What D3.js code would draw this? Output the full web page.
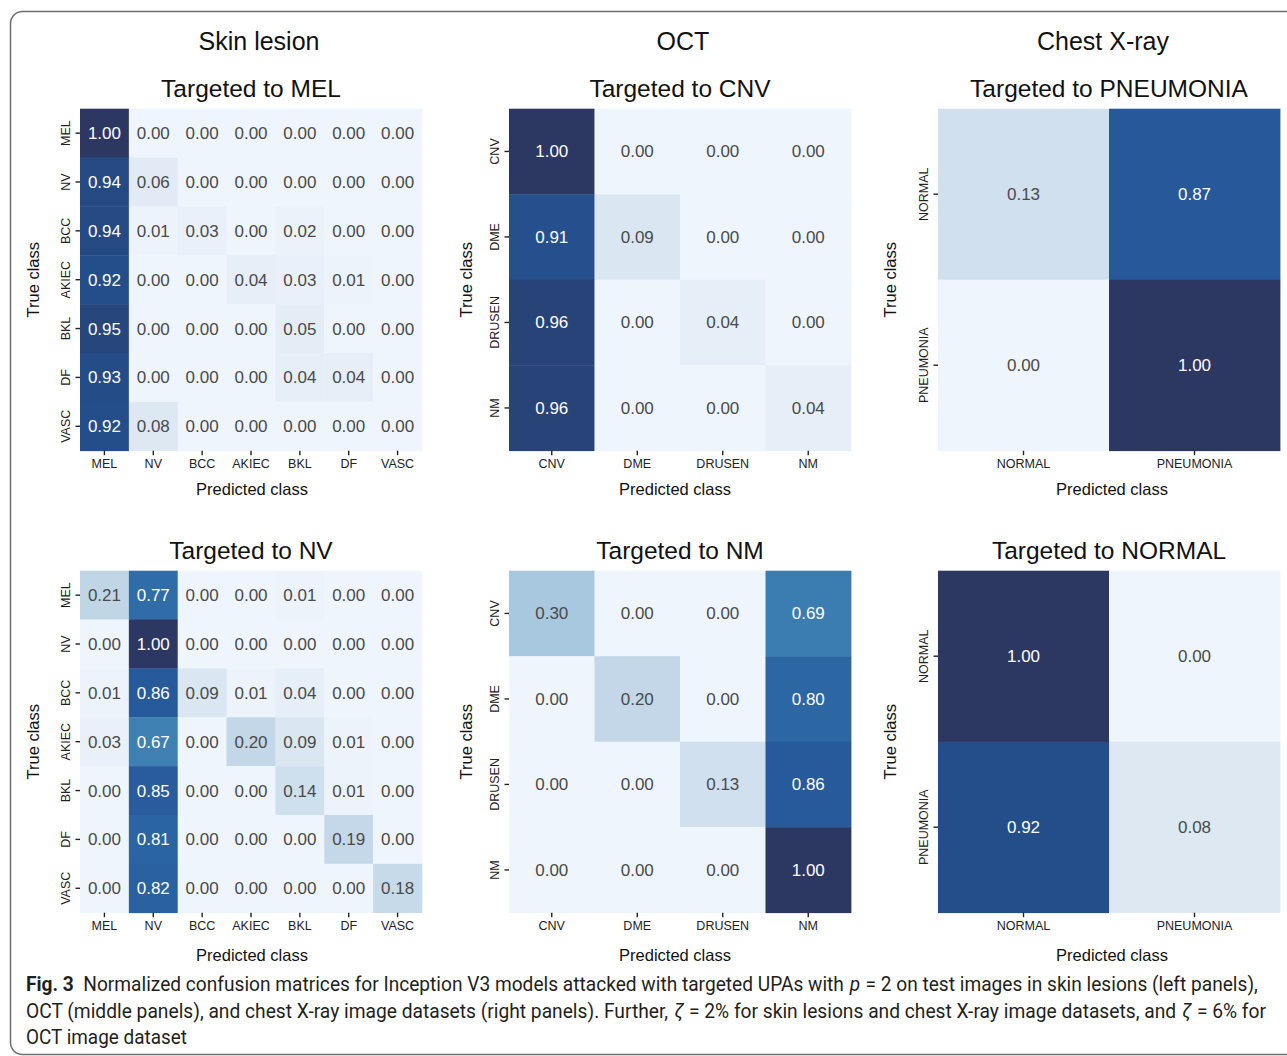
<!DOCTYPE html>
<html>
<head>
<meta charset="utf-8">
<script src="https://cdn.jsdelivr.net/npm/d3@7"></script>
<style>
  body { margin: 0; background: #fff; }
  svg { display: block; }
  text { font-family: "Liberation Sans", Arial, Helvetica, sans-serif; }
  .caption { font-family: Roboto, "Liberation Sans", sans-serif; white-space: pre; }
</style>
</head>
<body>
<svg id="fig" width="1287" height="1056"></svg>
<script>
// ---- class labels ----
const skinClasses  = ["MEL", "NV", "BCC", "AKIEC", "BKL", "DF", "VASC"];
const octClasses   = ["CNV", "DME", "DRUSEN", "NM"];
const chestClasses = ["NORMAL", "PNEUMONIA"];

// ---- normalized confusion matrices (rows = true class, cols = predicted class) ----
const skinToMel = [
  [1.00, 0.00, 0.00, 0.00, 0.00, 0.00, 0.00],
  [0.94, 0.06, 0.00, 0.00, 0.00, 0.00, 0.00],
  [0.94, 0.01, 0.03, 0.00, 0.02, 0.00, 0.00],
  [0.92, 0.00, 0.00, 0.04, 0.03, 0.01, 0.00],
  [0.95, 0.00, 0.00, 0.00, 0.05, 0.00, 0.00],
  [0.93, 0.00, 0.00, 0.00, 0.04, 0.04, 0.00],
  [0.92, 0.08, 0.00, 0.00, 0.00, 0.00, 0.00]
];
const skinToNv = [
  [0.21, 0.77, 0.00, 0.00, 0.01, 0.00, 0.00],
  [0.00, 1.00, 0.00, 0.00, 0.00, 0.00, 0.00],
  [0.01, 0.86, 0.09, 0.01, 0.04, 0.00, 0.00],
  [0.03, 0.67, 0.00, 0.20, 0.09, 0.01, 0.00],
  [0.00, 0.85, 0.00, 0.00, 0.14, 0.01, 0.00],
  [0.00, 0.81, 0.00, 0.00, 0.00, 0.19, 0.00],
  [0.00, 0.82, 0.00, 0.00, 0.00, 0.00, 0.18]
];
const octToCnv = [
  [1.00, 0.00, 0.00, 0.00],
  [0.91, 0.09, 0.00, 0.00],
  [0.96, 0.00, 0.04, 0.00],
  [0.96, 0.00, 0.00, 0.04]
];
const octToNm = [
  [0.30, 0.00, 0.00, 0.69],
  [0.00, 0.20, 0.00, 0.80],
  [0.00, 0.00, 0.13, 0.86],
  [0.00, 0.00, 0.00, 1.00]
];
const chestToPneumonia = [
  [0.13, 0.87],
  [0.00, 1.00]
];
const chestToNormal = [
  [1.00, 0.00],
  [0.92, 0.08]
];

// ---- colour map: light blue to dark navy ----
const color = d3.scaleLinear()
  .domain([0, 0.06, 0.13, 0.2, 0.3, 0.68, 0.8, 0.87, 0.93, 1.0])
  .range(["#eff5fc", "#e2ebf5", "#d0e0ef", "#c3d7e8", "#a8c8df",
          "#3c7eb2", "#2c66a3", "#26589a", "#244c87", "#2d3862"])
  .interpolate(d3.interpolateRgb)
  .clamp(true);

const svg = d3.select("#fig");

// outer frame
svg.append("rect")
  .attr("x", 10.5).attr("y", 11.5)
  .attr("width", 1300).attr("height", 1043)
  .attr("rx", 12).attr("ry", 12)
  .attr("fill", "none").attr("stroke", "#6e6e6e").attr("stroke-width", 1.5);

// column headers
const headers = [
  { text: "Skin lesion", x: 259 },
  { text: "OCT", x: 683 },
  { text: "Chest X-ray", x: 1103 }
];
svg.selectAll("text.header").data(headers).join("text")
  .attr("class", "header")
  .attr("x", d => d.x).attr("y", 50)
  .attr("text-anchor", "middle")
  .attr("font-size", 25).attr("fill", "#111")
  .text(d => d.text);

// panel layout
const SIZE = 342;
const panels = [
  { title: "Targeted to MEL",       classes: skinClasses,  values: skinToMel,        x: 80,  y: 108.7, ylab: 33.5, xlabDx: 1,  xlabDy: 44 },
  { title: "Targeted to CNV",       classes: octClasses,   values: octToCnv,         x: 509, y: 108.7, ylab: 466,  xlabDx: -5, xlabDy: 44 },
  { title: "Targeted to PNEUMONIA", classes: chestClasses, values: chestToPneumonia, x: 938, y: 108.7, ylab: 890,  xlabDx: 3,  xlabDy: 44 },
  { title: "Targeted to NV",        classes: skinClasses,  values: skinToNv,         x: 80,  y: 570.7, ylab: 33.5, xlabDx: 1,  xlabDy: 48 },
  { title: "Targeted to NM",        classes: octClasses,   values: octToNm,          x: 509, y: 570.7, ylab: 466,  xlabDx: -5, xlabDy: 48 },
  { title: "Targeted to NORMAL",    classes: chestClasses, values: chestToNormal,    x: 938, y: 570.7, ylab: 890,  xlabDx: 3,  xlabDy: 48 }
];

function drawMatrix(p) {
  const g = svg.append("g");
  const x = d3.scaleBand().domain(p.classes).range([p.x, p.x + SIZE]);
  const y = d3.scaleBand().domain(p.classes).range([p.y, p.y + SIZE]);
  const cells = p.values.flatMap((row, i) =>
    row.map((v, j) => ({ r: p.classes[i], c: p.classes[j], v })));

  g.selectAll("rect.cell").data(cells).join("rect")
    .attr("class", "cell")
    .attr("x", d => x(d.c)).attr("y", d => y(d.r))
    .attr("width", x.bandwidth() + 0.4).attr("height", y.bandwidth() + 0.4)
    .attr("fill", d => color(d.v));

  g.selectAll("text.val").data(cells).join("text")
    .attr("class", "val")
    .attr("x", d => x(d.c) + x.bandwidth() / 2)
    .attr("y", d => y(d.r) + y.bandwidth() / 2)
    .attr("dy", "0.35em")
    .attr("text-anchor", "middle")
    .attr("font-size", 17)
    .attr("fill", d => d.v > 0.5 ? "#ffffff" : "#4a4a4a")
    .text(d => d.v.toFixed(2));

  // x axis (predicted class)
  const ax = g.append("g")
    .attr("transform", `translate(0,${p.y + SIZE})`)
    .call(d3.axisBottom(x).tickSize(4.5).tickPadding(4));
  ax.select(".domain").remove();
  ax.selectAll(".tick line").attr("stroke", "#222").attr("stroke-width", 1.4);
  ax.selectAll(".tick text")
    .attr("font-size", 12.5).attr("fill", "#222")
    .attr("font-family", "Liberation Sans, Arial, sans-serif");

  // y axis (true class), labels rotated
  const ay = g.append("g")
    .attr("transform", `translate(${p.x},0)`)
    .call(d3.axisLeft(y).tickSize(4.5));
  ay.select(".domain").remove();
  ay.selectAll(".tick line").attr("stroke", "#222").attr("stroke-width", 1.4);
  ay.selectAll(".tick text")
    .attr("transform", "rotate(-90)")
    .attr("x", 0).attr("y", -10.5).attr("dy", 0)
    .attr("text-anchor", "middle")
    .attr("font-size", 12.5).attr("fill", "#222")
    .attr("font-family", "Liberation Sans, Arial, sans-serif");

  // panel title
  g.append("text")
    .attr("x", p.x + SIZE / 2).attr("y", p.y - 12)
    .attr("text-anchor", "middle")
    .attr("font-size", 24.5).attr("fill", "#111")
    .text(p.title);

  // axis titles
  g.append("text")
    .attr("x", p.x + SIZE / 2 + p.xlabDx).attr("y", p.y + SIZE + p.xlabDy)
    .attr("text-anchor", "middle")
    .attr("font-size", 16.5).attr("fill", "#111")
    .text("Predicted class");

  g.append("text")
    .attr("transform", `translate(${p.ylab},${p.y + SIZE / 2}) rotate(-90)`)
    .attr("dy", "0.35em")
    .attr("text-anchor", "middle")
    .attr("font-size", 16.5).attr("fill", "#111")
    .text("True class");
}

panels.forEach(drawMatrix);

// ---- figure caption: runs laid out in natural units, then the line is squeezed horizontally ----
const captionLines = [
  { y: 991, len: 1232, parts: [
    { t: "Fig. 3", w: "bold" },
    { t: "  Normalized confusion matrices for Inception V3 models attacked with targeted UPAs with" },
    { t: "p", s: "italic" },
    { t: "= 2 on test images in skin lesions (left panels)," }
  ]},
  { y: 1017.5, len: 1240, parts: [
    { t: "OCT (middle panels), and chest X-ray image datasets (right panels). Further," },
    { t: "ζ", s: "italic" },
    { t: "= 2% for skin lesions and chest X-ray image datasets, and" },
    { t: "ζ", s: "italic" },
    { t: "= 6% for" }
  ]},
  { y: 1044, len: 161, parts: [ { t: "OCT image dataset" } ] }
];

// space kept on each side of an italic symbol (natural units)
const SYM_GAP = 5.5;

captionLines.forEach(line => {
  const lg = svg.append("g");
  const runs = line.parts.map(p => {
    const node = lg.append("text")
      .attr("class", "caption")
      .attr("y", 0)
      .attr("font-size", 19.5).attr("fill", "#231f20")
      .attr("font-weight", p.w || "normal")
      .attr("font-style", p.s || "normal")
      .text(p.t);
    return { node, italic: !!p.s, w: node.node().getComputedTextLength() };
  });
  let cx = 0;
  runs.forEach(r => {
    if (r.italic) cx += SYM_GAP;
    r.node.attr("x", cx);
    cx += r.w;
    if (r.italic) cx += SYM_GAP;
  });
  const k = line.len / cx;
  lg.attr("transform", `translate(26,${line.y}) scale(${k},1)`);
});
</script>
</body>
</html>
